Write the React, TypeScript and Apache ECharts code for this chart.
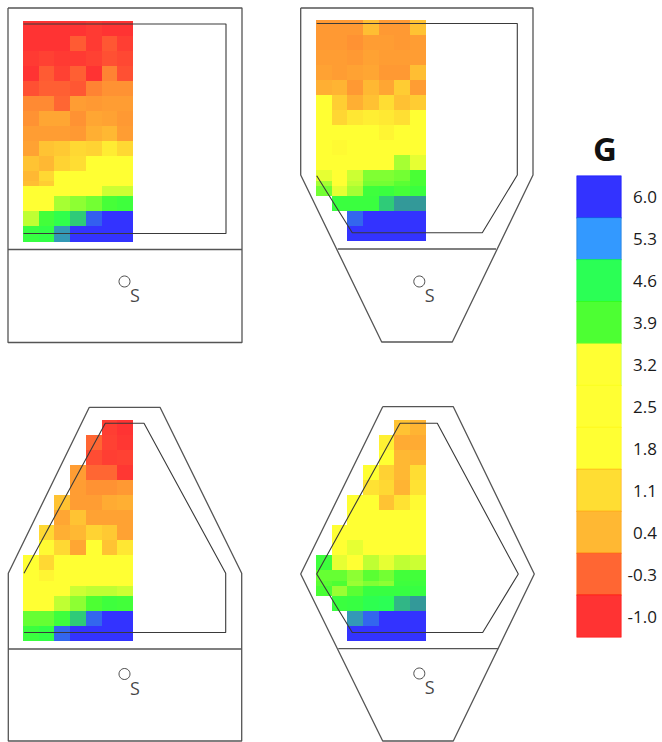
import React, { useEffect, useRef } from "react";
import * as echarts from "echarts";

const N = null;
const topLeftRows = [
  [-1, -1, -1, -1, -0.9, -1, -1],
  [-1, -1, -1, -0.45, -0.9, -0.5, -0.85],
  [-0.9, -0.8, -0.9, -0.9, -0.8, -0.6, -0.7],
  [-1, -0.45, -0.8, -0.4, -1, -0.1, -0.6],
  [-0.6, -0.4, -0.4, -0.5, -0.1, 0, 0],
  [-0.05, -0.05, -0.3, 0.1, 0.05, 0.1, 0.1],
  [0, 0.2, 0.2, 0, 0.2, 0.15, 0.05],
  [0.1, 0.1, 0.1, 0.05, 0.3, 0.4, 0.1],
  [0.15, 0.6, 0.7, 1, 0.9, 1.4, 1],
  [0.6, 0.4, 0.9, 1.1, 1.8, 1.8, 1.8],
  [0.4, 1, 1.9, 1.9, 1.9, 1.9, 1.9],
  [0.5, 0.8, 1.8, 2.2, 2.2, 3.1, 3.1],
  [1.9, 1.9, 1.9, 2.5, 2.9, 3.4, 3.4],
  [2, 2.4, 3.55, 3.65, 3.75, 4, 4.1],
  [3.45, 4.05, 4.4, 4.78, 5.7, 6, 6],
  [4.2, 4.3, 5.05, 6, 6, 6, 6],
];
const topRightRows = [
  [0.05, 0.05, 0.05, 0.5, 0.05, 0.05, 0.6],
  [0.05, 0.05, 0, 0.1, 0.1, 0.05, 0.1],
  [0.1, 0.1, 0.05, 0.15, 0.1, 0.1, 0.1],
  [0.15, 0.1, 0.15, 0.2, 0.05, 0.05, 0.5],
  [0.3, 0.35, 0.05, 0.4, 0.2, 0.75, 0.1],
  [1.8, 0.8, 0.3, 0.55, 1.1, 0.55, 0.75],
  [1.8, 0.95, 1.3, 1.45, 1.35, 1.15, 1.8],
  [1.9, 1.9, 1.9, 1.9, 1.6, 1.8, 1.9],
  [1.9, 1.7, 1.9, 1.9, 1.9, 1.9, 1.9],
  [1.9, 1.9, 1.9, 1.9, 2, 3.55, 3.3],
  [3.3, 2.5, 3.4, 3.7, 3.7, 3.75, 3.95],
  [3.55, 2.9, 3.45, 3.75, 3.75, 3.85, 3.95],
  [3.75, 3.3, 3.55, 4.1, 4.15, 4, 4.15],
  [N, 4.15, 4.15, 4.15, 4.78, 4.95, 4.95],
  [N, N, 5.65, 6, 6, 6, 6],
  [N, N, 6, 6, 6, 6, 6],
];
const bottomLeftRows = [
  [N, N, N, N, N, -0.85, -1],
  [N, N, N, N, -0.3, -0.8, -0.95],
  [N, N, N, N, -0.65, -0.85, -0.8],
  [N, N, N, 0.1, -0.3, -0.3, -0.95],
  [N, N, N, 0.1, 0, 0, 0.05],
  [N, N, 0.6, 0.1, 0.1, 0.25, 0.3],
  [N, N, 0.2, 0.6, 0.15, 0.15, 0.15],
  [N, 1, 0.3, 0.4, 0.9, 0.7, 0.15],
  [N, 1.7, 1, 0.2, 1.8, 0.6, 1.3],
  [1.9, 1, 1.9, 1.9, 1.9, 1.9, 1.9],
  [1.9, 1.6, 1.9, 1.9, 1.9, 1.9, 1.9],
  [1.9, 1.9, 1.9, 2.8, 2.8, 2.8, 2.8],
  [1.9, 1.9, 1.9, 3.4, 3.45, 3.45, 3.4],
  [2.9, 2, 3.45, 3.65, 3.9, 4.1, 4.05],
  [3.8, 3.8, 4.1, 4.78, 5.65, 6, 6],
  [4.15, 4.3, 5.65, 6, 6, 6, 6],
];
const bottomRightRows = [
  [N, N, N, N, N, 0.6, 0.35],
  [N, N, N, N, 1.5, 0.25, 0.25],
  [N, N, N, N, 1.8, 0.4, 0.35],
  [N, N, N, 1.8, 0.85, 0.4, 1.1],
  [N, N, N, 1.2, 1, 0.35, 1.2],
  [N, N, 1.8, 1.8, 0.6, 1.2, 1.7],
  [N, N, 1.9, 1.9, 1.9, 1.9, 1.9],
  [N, 1.9, 1.9, 1.9, 1.9, 1.9, 1.9],
  [N, 2.7, 3.3, 1.9, 1.9, 1.9, 1.9],
  [4.1, 3.3, 3.1, 3.45, 3.3, 3.45, 3.4],
  [3.8, 3.8, 3.65, 3.85, 3.75, 4.05, 4.05],
  [3.85, 3.9, 3.6, 3.7, 3.65, 4.1, 4.1],
  [3.95, 3.6, 3.85, 4.2, 4.2, 4.2, 4.2],
  [N, 4.15, 4.2, 4.5, 4.6, 4.85, 4.95],
  [N, N, 5.05, 5.65, 6, 6, 6],
  [N, N, 6, 6, 6, 6, 6],
];
const rowEdges = [0, 3, 6, 9, 12, 15, 18, 21, 24, 27, 30, 32, 33, 35, 38, 41, 44];

const legendTicks = ["6.0", "5.3", "4.6", "3.9", "3.2", "2.5", "1.8", "1.1", "0.4", "-0.3", "-1.0"];
const legendEdges = ["#0000ff", "#0066cc", "#00ff33", "#33ff00", "#aaff33", "#ffff00", "#ffee00", "#ff9900", "#ff9900", "#ff6600", "#ff0000"];
const colorStops = [
  "#ff3333", "#ff4c33", "#ff6633", "#ff9933", "#ffb833", "#ffcc33", "#ffdd33", "#ffee33",
  "#ffff33", "#ffff33", "#ffff33", "#ffff33", "#ffff33", "#a6ff33", "#4dff33", "#33ff44",
  "#2bff55", "#339999", "#3399ff", "#3366ee", "#3333ff",
];

const outerTopLeft = [[8, 8], [242, 8], [242, 342.5], [8, 342.5], [8, 8]];
const dividerTopLeft = [[8, 249.5], [242, 249.5]];
const innerTopLeft = [[23.5, 24], [226, 24], [226, 233.5], [23.5, 233.5]];
const outerTopRight = [[300.7, 8], [533, 8], [533, 175], [452.3, 342], [381.7, 342], [300.7, 175], [300.7, 8]];
const dividerTopRight = [[337.7, 249], [496, 249]];
const innerTopRight = [[316.7, 23.5], [517.3, 23.5], [517.3, 175], [482.3, 232.7], [352.3, 232.7], [316.7, 175.7]];
const outerBottomLeft = [[89.3, 407.3], [160, 407.3], [241.7, 573.3], [241.7, 741], [8.3, 741], [8.3, 573.3], [89.3, 407.3]];
const dividerBottomLeft = [[8.3, 649], [241.7, 649]];
const innerBottomLeft = [[24, 632.5], [225.7, 632.5], [225.7, 573.3], [144, 423.3], [105.3, 423.3], [24, 573.3]];
const outerBottomRight = [[382.7, 406.7], [453.3, 406.7], [534.3, 574], [453.3, 741], [382.7, 741], [300.7, 574], [382.7, 406.7]];
const dividerBottomRight = [[338.3, 648.7], [498.3, 648.7]];
const innerBottomRight = [[400, 423.3], [437.3, 423.3], [518.3, 574], [482.7, 632.5], [352.3, 632.5], [316.7, 574], [400, 423.3]];
const sourcePoints = [[124.5, 281.5], [419.3, 281.5], [124.5, 674], [419.3, 673.5]];

const panels = [
  { rows: topLeftRows, left: 23, top: 21, width: 110, height: 220.5 },
  { rows: topRightRows, left: 316, top: 20, width: 109.5, height: 220.7 },
  { rows: bottomLeftRows, left: 23, top: 420, width: 110, height: 220.7 },
  { rows: bottomRightRows, left: 316, top: 420, width: 109.7, height: 220.7 },
];
const outlines = [
  outerTopLeft, dividerTopLeft, innerTopLeft,
  outerTopRight, dividerTopRight, innerTopRight,
  outerBottomLeft, dividerBottomLeft, innerBottomLeft,
  outerBottomRight, dividerBottomRight, innerBottomRight,
];

const cells = (rows: (number | null)[][]) => {
  const out: number[][] = [];
  rows.forEach((row, r) =>
    row.forEach((v, c) => {
      if (v !== null) out.push([c, r, v]);
    })
  );
  return out;
};

const renderCell = (_: any, api: any) => {
  const c = api.value(0);
  const r = api.value(1);
  const a = api.coord([c, rowEdges[r]]);
  const b = api.coord([c + 1, rowEdges[r + 1]]);
  const x = Math.round(a[0]);
  const y = Math.round(a[1]);
  return {
    type: "rect",
    shape: { x, y, width: Math.round(b[0]) - x, height: Math.round(b[1]) - y },
    style: { fill: api.visual("color") },
  };
};

export default function App() {
  const ref = useRef<HTMLDivElement>(null);
  useEffect(() => {
    document.body.style.margin = "0";
    document.body.style.background = "#fff";
    const chart = echarts.init(ref.current!, undefined, { renderer: "svg" });
    const hidden = { show: false };
    const panelCount = panels.length;
    const overlayIndex = panelCount + 1;
    const cellSeries = panels.map((p, i) => ({
      type: "custom",
      xAxisIndex: i,
      yAxisIndex: i,
      z: 1,
      encode: { x: 0, y: 1 },
      renderItem: renderCell,
      data: cells(p.rows),
      silent: true,
    }));
    const legendSeries = {
      type: "heatmap",
      xAxisIndex: panelCount,
      yAxisIndex: panelCount,
      z: 1,
      silent: true,
      data: legendTicks.map((t, i) => ({
        value: [0, t, parseFloat(t)],
        itemStyle: { borderColor: legendEdges[i], borderWidth: 0.5 },
      })),
    };
    const lineSeries = outlines.map((pts, i) => ({
      type: "line",
      xAxisIndex: overlayIndex,
      yAxisIndex: overlayIndex,
      z: 3,
      symbol: "none",
      clip: false,
      silent: true,
      data: pts,
      lineStyle: {
        color: i % 3 === 2 ? "#3a3a3a" : "#555555",
        width: i % 3 === 2 ? 1.1 : 1.3,
      },
    }));
    const sourceSeries = {
      type: "scatter",
      xAxisIndex: overlayIndex,
      yAxisIndex: overlayIndex,
      z: 3,
      silent: true,
      symbol: "circle",
      symbolSize: 11,
      data: sourcePoints,
      itemStyle: { color: "#ffffff", borderColor: "#222222", borderWidth: 1 },
      label: {
        show: true,
        formatter: "S",
        position: "inside",
        offset: [10.5, 13.5],
        color: "#111111",
        fontFamily: "Open Sans",
        fontSize: 18,
      },
    };
    chart.setOption({
      animation: false,
      backgroundColor: "#ffffff",
      title: {
        text: "G",
        left: 600,
        top: 127,
        textAlign: "center",
        textStyle: { fontFamily: "Open Sans", fontWeight: "bold", fontSize: 33, color: "#111111" },
      },
      grid: [
        ...panels.map((p) => ({ left: p.left, top: p.top, width: p.width, height: p.height })),
        { left: 577, top: 176, width: 44, height: 461 },
        { left: 0, top: 0, right: 0, bottom: 0 },
      ],
      xAxis: [
        ...panels.map((_, i) => ({ type: "value", gridIndex: i, min: 0, max: 7, ...hidden })),
        { type: "category", gridIndex: panelCount, data: [0], ...hidden },
        { type: "value", gridIndex: overlayIndex, min: 0, max: 662, ...hidden },
      ],
      yAxis: [
        ...panels.map((_, i) => ({ type: "value", gridIndex: i, min: 0, max: 44, inverse: true, ...hidden })),
        {
          type: "category",
          gridIndex: panelCount,
          data: legendTicks,
          inverse: true,
          position: "right",
          axisLine: { show: false },
          axisTick: { show: false },
          splitLine: { show: false },
          axisLabel: {
            align: "right",
            margin: 36,
            color: "#1a1a1a",
            fontFamily: "Open Sans",
            fontSize: 17,
          },
        },
        { type: "value", gridIndex: overlayIndex, min: 0, max: 742, inverse: true, ...hidden },
      ],
      visualMap: {
        type: "continuous",
        show: false,
        min: -1,
        max: 6,
        dimension: 2,
        seriesIndex: [0, 1, 2, 3, 4],
        inRange: { color: colorStops },
      },
      series: [...cellSeries, legendSeries, ...lineSeries, sourceSeries],
    });
    return () => chart.dispose();
  }, []);
  return <div ref={ref} style={{ width: 662, height: 742 }} />;
}
